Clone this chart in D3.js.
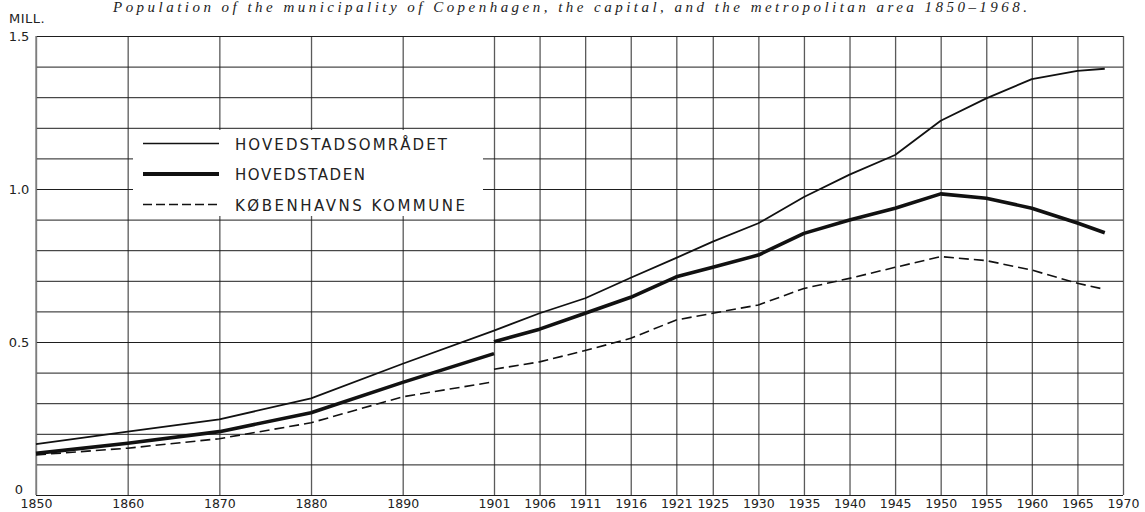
<!DOCTYPE html>
<html><head><meta charset="utf-8">
<script src="https://cdn.jsdelivr.net/npm/d3@7"></script>
<style>
html,body{margin:0;padding:0;background:#fff;}
svg{display:block;}
</style></head>
<body>
<svg id="chart" width="1145" height="512"></svg>
<script>
// ---- data ----
const titleText = "Population of the municipality of Copenhagen, the capital, and the metropolitan area 1850–1968.";
const unitLabel = "MILL.";
const tickYears = [1850,1860,1870,1880,1890,1901,1906,1911,1916,1921,1925,1930,1935,1940,1945,1950,1955,1960,1965,1970];
const gridValues = [0,0.1,0.2,0.3,0.4,0.5,0.6,0.7,0.8,0.9,1.0,1.1,1.2,1.3,1.4,1.5];
const yLabelValues = [0,0.5,1.0,1.5];
const yLabelTexts = ["0","0.5","1.0","1.5"];
const yearsEarly = [1850,1860,1870,1880,1890,1901];
const yearsLate = [1901,1906,1911,1916,1921,1925,1930,1935,1940,1945,1950,1955,1960,1965,1968];
const seriesNames = ["HOVEDSTADSOMRÅDET","HOVEDSTADEN","KØBENHAVNS KOMMUNE"];
const metroEarly = [0.166,0.207,0.247,0.316,0.429,0.537];
const metroLate  = [0.537,0.594,0.643,0.710,0.775,0.828,0.888,0.974,1.047,1.111,1.223,1.296,1.359,1.386,1.393];
const capitalEarly = [0.136,0.169,0.207,0.269,0.368,0.462];
const capitalLate  = [0.501,0.542,0.594,0.646,0.713,0.744,0.784,0.855,0.899,0.937,0.984,0.970,0.937,0.889,0.857];
const municEarly = [0.131,0.153,0.184,0.236,0.321,0.370];
const municLate  = [0.411,0.435,0.472,0.512,0.572,0.594,0.621,0.675,0.708,0.744,0.779,0.766,0.735,0.692,0.672];

// ---- layout ----
const svg = d3.select("#chart");
const x = d3.scaleLinear().domain([1850,1890,1901,1970]).range([36,402.7,494,1123]);
const y = d3.scaleLinear().domain([0,1.5]).range([495,36]);
const font = "'DejaVu Sans', sans-serif";

// title
svg.append("text").attr("x",113).attr("y",12)
  .attr("textLength",914).attr("lengthAdjust","spacing")
  .attr("font-family","'Liberation Serif', serif").attr("font-style","italic")
  .attr("font-size",15).attr("fill","#222").text(titleText);

// vertical grid
const gx = svg.append("g").attr("transform","translate(0,495)")
  .call(d3.axisBottom(x).tickValues(tickYears).tickSize(-459).tickFormat(d=>String(d)));
gx.select(".domain").remove();
gx.selectAll(".tick line").attr("stroke","#5a5a5a").attr("stroke-width",1.3);
gx.selectAll(".tick text").attr("y",13).attr("dy",0).attr("font-family",font)
  .attr("font-size",12.5).attr("fill","#222");

// horizontal grid
const gy = svg.append("g").attr("transform","translate(36,0)")
  .call(d3.axisLeft(y).tickValues(gridValues).tickSize(-1087).tickFormat(""));
gy.select(".domain").remove();
gy.selectAll(".tick line").attr("stroke","#1e1e1e").attr("stroke-width",1);

// left frame
svg.append("line").attr("x1",x(1850)).attr("x2",x(1850)).attr("y1",y(1.5)).attr("y2",y(0))
  .attr("stroke","#8a8a8a").attr("stroke-width",1.5);

// y labels
svg.selectAll("text.ylab").data(yLabelValues).join("text").attr("class","ylab")
  .attr("x",19).attr("y",(d)=>y(d) + (d===0 ? -1 : 5))
  .attr("text-anchor","middle").attr("font-family",font).attr("font-size",13)
  .attr("fill","#222").text((d,i)=>yLabelTexts[i]);
svg.append("text").attr("x",9).attr("y",23).attr("font-family",font).attr("font-size",13)
  .attr("letter-spacing",0.5).attr("fill","#222").text(unitLabel);

// legend background
svg.append("rect").attr("x",133).attr("y",130).attr("width",350).attr("height",86).attr("fill","#fff");

// series
const line = d3.line().x(d=>x(d[0])).y(d=>y(d[1]));
const styles = [
  {w:1.8, dash:null},
  {w:3.6, dash:null},
  {w:1.6, dash:"10,5"}
];
const seriesData = [[metroEarly,metroLate],[capitalEarly,capitalLate],[municEarly,municLate]];
seriesData.forEach((pair,si)=>{
  [[yearsEarly,pair[0]],[yearsLate,pair[1]]].forEach(([yrs,vals])=>{
    svg.append("path").datum(yrs.map((yr,i)=>[yr,vals[i]]))
      .attr("d",line).attr("fill","none").attr("stroke","#111")
      .attr("stroke-width",styles[si].w).attr("stroke-linejoin","round")
      .attr("stroke-dasharray",styles[si].dash);
  });
});

// legend
const legY = [143.5,174,204.5];
const legLen = [212,130,230];
seriesNames.forEach((name,i)=>{
  svg.append("line").attr("x1",143).attr("x2",219).attr("y1",legY[i]).attr("y2",legY[i])
    .attr("stroke","#111").attr("stroke-width",i===1?4:1.5)
    .attr("stroke-dasharray",i===2?"9,4":null);
  svg.append("text").attr("x",235).attr("y",legY[i]+6)
    .attr("textLength",legLen[i]).attr("lengthAdjust","spacing")
    .attr("font-family",font).attr("font-size",15).attr("fill","#222").text(name);
});
</script>
</body></html>
